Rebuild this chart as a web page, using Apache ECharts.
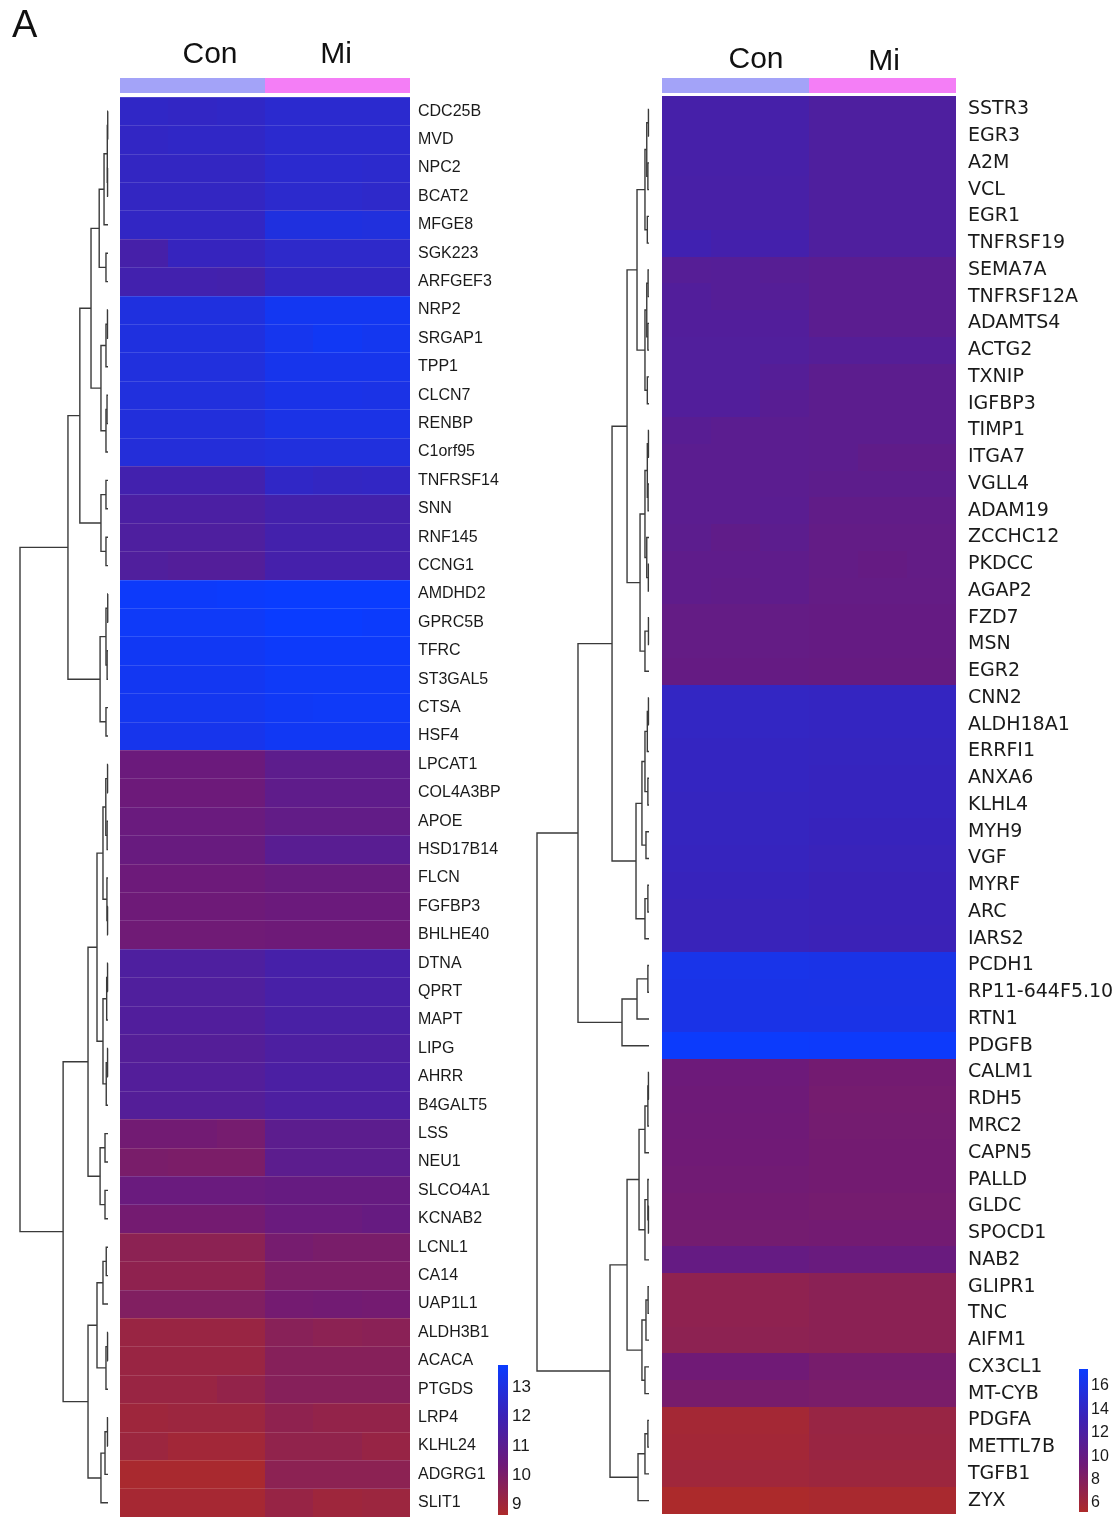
<!DOCTYPE html>
<html><head><meta charset="utf-8">
<script src="https://cdn.jsdelivr.net/npm/echarts@6/dist/echarts.min.js"></script>
<style>html,body{margin:0;padding:0;background:#fff}#c{width:1120px;height:1517px}</style>
</head><body><div id="c"></div>
<script>
const sampleNames = ['Con1','Con2','Con3','Mi1','Mi2','Mi3'];
const sampleGroups = [0,0,0,1,1,1];
const groupLabels = ['Con','Mi'];
const groupColors = ['#a3a3f8','#f47ef6'];

const leftGenes = ['CDC25B','MVD','NPC2','BCAT2','MFGE8','SGK223','ARFGEF3','NRP2','SRGAP1','TPP1','CLCN7','RENBP','C1orf95','TNFRSF14','SNN','RNF145','CCNG1','AMDHD2','GPRC5B','TFRC','ST3GAL5','CTSA','HSF4','LPCAT1','COL4A3BP','APOE','HSD17B14','FLCN','FGFBP3','BHLHE40','DTNA','QPRT','MAPT','LIPG','AHRR','B4GALT5','LSS','NEU1','SLCO4A1','KCNAB2','LCNL1','CA14','UAP1L1','ALDH3B1','ACACA','PTGDS','LRP4','KLHL24','ADGRG1','SLIT1'];

const leftValues = [
[12.4,12.35,12.4,12.6,12.6,12.6],
[12.35,12.4,12.4,12.6,12.6,12.6],
[12.3,12.3,12.3,12.6,12.6,12.55],
[12.3,12.3,12.3,12.55,12.55,12.5],
[12.35,12.35,12.35,13.0,13.0,12.95],
[11.65,12.2,12.2,12.5,12.5,12.5],
[11.8,11.8,11.75,12.3,12.3,12.3],
[13.0,13.0,13.0,13.45,13.45,13.45],
[13.0,13.0,13.0,13.35,13.5,13.4],
[12.95,12.95,12.95,13.3,13.3,13.3],
[12.95,12.95,12.95,13.2,13.2,13.15],
[12.9,12.9,12.9,13.15,13.15,13.15],
[12.85,12.85,12.85,12.95,12.95,12.95],
[11.8,11.8,11.8,12.4,12.3,12.35],
[11.5,11.5,11.5,11.75,11.75,11.75],
[11.4,11.4,11.4,11.75,11.75,11.75],
[11.35,11.25,11.25,11.7,11.7,11.7],
[13.65,13.65,13.7,13.75,13.75,13.75],
[13.6,13.6,13.6,13.75,13.75,13.7],
[13.5,13.5,13.5,13.65,13.65,13.65],
[13.45,13.45,13.45,13.6,13.6,13.6],
[13.4,13.4,13.4,13.55,13.6,13.6],
[13.3,13.3,13.3,13.5,13.5,13.5],
[10.45,10.45,10.45,10.9,10.9,10.9],
[10.4,10.4,10.4,10.85,10.85,10.85],
[10.5,10.5,10.5,10.75,10.75,10.75],
[10.55,10.55,10.55,11.05,11.05,11.05],
[10.4,10.4,10.4,10.55,10.55,10.55],
[10.35,10.35,10.35,10.45,10.45,10.45],
[10.3,10.3,10.3,10.35,10.35,10.35],
[11.4,11.4,11.4,11.65,11.65,11.65],
[11.35,11.35,11.35,11.6,11.6,11.6],
[11.3,11.3,11.3,11.55,11.55,11.55],
[11.2,11.2,11.2,11.45,11.45,11.45],
[11.25,11.25,11.25,11.5,11.5,11.5],
[11.2,11.2,11.2,11.45,11.45,11.45],
[10.25,10.25,10.15,10.95,10.95,10.95],
[10.05,10.0,10.0,10.95,10.95,10.95],
[10.5,10.5,10.5,10.6,10.6,10.6],
[10.2,10.2,10.2,10.5,10.5,10.6],
[9.55,9.55,9.55,10.15,10.05,10.05],
[9.45,9.45,9.45,9.95,9.95,9.95],
[9.85,9.85,9.85,10.2,10.25,10.2],
[9.2,9.2,9.2,9.65,9.55,9.6],
[9.2,9.2,9.2,9.7,9.7,9.7],
[9.2,9.2,9.35,9.7,9.7,9.7],
[9.05,9.1,9.1,9.45,9.35,9.35],
[9.1,8.95,8.95,9.4,9.4,9.25],
[8.75,8.75,8.75,9.55,9.55,9.55],
[8.85,8.85,8.85,9.25,9.05,9.1]
];

const rightGenes = ['SSTR3','EGR3','A2M','VCL','EGR1','TNFRSF19','SEMA7A','TNFRSF12A','ADAMTS4','ACTG2','TXNIP','IGFBP3','TIMP1','ITGA7','VGLL4','ADAM19','ZCCHC12','PKDCC','AGAP2','FZD7','MSN','EGR2','CNN2','ALDH18A1','ERRFI1','ANXA6','KLHL4','MYH9','VGF','MYRF','ARC','IARS2','PCDH1','RP11-644F5.10','RTN1','PDGFB','CALM1','RDH5','MRC2','CAPN5','PALLD','GLDC','SPOCD1','NAB2','GLIPR1','TNC','AIFM1','CX3CL1','MT-CYB','PDGFA','METTL7B','TGFB1','ZYX'];

const rightValues = [
[12.4,12.4,12.4,11.8,11.8,11.8],
[12.4,12.4,12.4,11.8,11.8,11.8],
[12.35,12.35,12.35,11.75,11.75,11.75],
[12.3,12.3,12.3,11.75,11.75,11.75],
[12.3,12.3,12.3,11.75,11.75,11.75],
[12.9,12.6,12.6,11.75,11.75,11.75],
[11.2,11.3,11.1,10.9,10.9,10.9],
[11.5,11.3,11.3,10.9,10.9,10.9],
[11.5,11.5,11.5,10.8,10.8,10.8],
[11.6,11.6,11.6,11.3,11.3,11.3],
[11.6,11.6,11.3,10.7,10.7,10.7],
[11.5,11.5,11.0,10.7,10.7,10.7],
[11.0,10.8,10.8,10.7,10.7,10.7],
[10.8,10.8,10.8,10.7,10.4,10.4],
[10.8,10.8,10.8,10.6,10.6,10.6],
[10.8,10.8,10.9,10.3,10.3,10.3],
[10.7,10.4,10.7,10.2,10.2,10.2],
[10.5,10.5,10.5,10.2,10.0,10.2],
[10.5,10.4,10.5,10.1,10.1,10.1],
[10.1,10.1,10.1,10.0,10.0,10.0],
[10.1,10.1,10.1,10.0,10.0,10.0],
[10.0,10.0,10.0,9.9,9.9,9.9],
[14.0,14.0,14.0,13.9,13.9,13.9],
[14.0,14.0,14.0,13.9,13.9,13.9],
[13.9,13.9,13.9,13.8,13.8,13.8],
[13.9,13.9,13.9,13.7,13.7,13.7],
[13.8,13.8,13.8,13.7,13.7,13.7],
[13.8,13.8,13.8,13.6,13.6,13.6],
[13.7,13.7,13.7,13.5,13.5,13.5],
[13.6,13.6,13.6,13.4,13.4,13.4],
[13.5,13.5,13.5,13.4,13.4,13.4],
[13.5,13.5,13.5,13.3,13.3,13.3],
[16.2,16.2,16.2,16.1,16.1,16.1],
[16.1,16.1,16.1,16.0,16.0,16.0],
[16.1,16.1,16.1,16.05,16.05,16.05],
[17.3,17.3,17.3,17.2,17.2,17.2],
[9.4,9.4,9.4,8.95,8.95,8.95],
[9.3,9.3,9.3,8.85,8.85,8.85],
[9.25,9.25,9.25,8.9,8.9,8.9],
[9.2,9.2,9.2,8.95,8.95,8.95],
[9.1,9.1,9.1,8.95,8.95,8.95],
[9.0,9.0,9.0,8.85,8.85,8.85],
[8.9,8.9,8.9,9.0,9.0,9.0],
[10.0,10.0,10.0,9.7,9.7,9.7],
[7.2,7.2,7.2,7.5,7.5,7.5],
[7.2,7.2,7.2,7.4,7.4,7.4],
[7.3,7.3,7.3,7.4,7.4,7.4],
[9.2,9.2,9.2,8.7,8.7,8.7],
[8.7,8.7,8.7,8.5,8.5,8.5],
[5.8,5.8,5.8,6.6,6.6,6.6],
[5.9,5.9,5.9,6.5,6.5,6.5],
[6.1,6.1,6.1,6.3,6.3,6.3],
[5.3,5.3,5.3,5.5,5.5,5.5]
];

// dendrograms: [height, childA, childB]; numbers are row indices
const leftTree =
[10,
  [4.55,
    [3.2,
      [1.93,
        [1.0, [0.45, [0.08, [0.03, 0, 1], [0.05, 2, 3]], 4], [0.23, 5, 6]],
        [0.8, [0.23, [0.06, 7, 8], 9], [0.23, [0.11, 10, 11], 12]]
      ],
      [0.8, [0.23, 13, 14], [0.23, 15, 16]]
    ],
    [0.9, [0.23, [0.03, 17, 18], [0.1, 19, 20]], [0.23, 21, 22]]
  ],
  [5.1,
    [2.27,
      [1.25,
        [0.57, [0.25, [0.05, 23, 24], [0.1, 25, 26]], [0.12, 27, [0.05, 28, 29]]],
        [0.57, [0.15, [0.05, 30, 31], 32], [0.2, [0.05, 33, 34], 35]]
      ],
      [0.9, [0.34, 36, 37], [0.34, 38, 39]]
    ],
    [2.27,
      [1.25, [0.57, [0.2, 40, 41], 42], [0.23, [0.05, 43, 44], 45]],
      [0.8, [0.34, [0.06, 46, 47], 48], 49]
    ]
  ]
];

const rightTree =
[10,
  [6.34,
    [3.3,
      [1.96,
        [1.07,
          [0.36, [0.2, [0.05, 0, 1], [0.1, 2, 3]], [0.15, 4, 5]],
          [0.36, [0.2, [0.08, 6, 7], [0.1, 8, 9]], [0.15, 10, 11]]
        ],
        [0.8,
          [0.36, [0.15, [0.05, 12, 13], [0.08, 14, 15]], [0.2, 16, [0.06, 17, 18]]],
          [0.36, [0.05, 19, 20], 21]
        ]
      ],
      [1.16,
        [0.63, [0.36, [0.15, [0.05, 22, 23], 24], [0.1, 25, 26]], [0.27, 27, 28]],
        [0.36, [0.1, 29, 30], 31]
      ]
    ],
    [2.41, [1.07, [0.1, 32, 33], 34], 35]
  ],
  [3.48,
    [1.96,
      [0.89, [0.36, [0.1, [0.05, 36, 37], 38], 39], [0.36, [0.1, 40, [0.05, 41, 42]], 43]],
      [0.63, [0.27, [0.08, 44, 45], 46], [0.36, 47, 48]]
    ],
    [0.98, [0.36, [0.1, 49, 50], 51], 52]
  ]
];

const palette = ['#ad2a2a', '#6e1a78', '#3a22b8', '#0a3cff'];
const leftRange = [8.65, 13.76];
const rightRange = [5.23, 17.45];
const leftTicks = [9, 10, 11, 12, 13];
const rightTicks = [6, 8, 10, 12, 14, 16];

function dendroSegments(tree) {
  const segs = [];
  function walk(n) {
    if (typeof n === 'number') return { h: 0, y: n };
    const a = walk(n[1]), b = walk(n[2]);
    const y = (a.y + b.y) / 2;
    segs.push([n[0], y, a.h, a.y, b.h, b.y]);
    return { h: n[0], y: y };
  }
  walk(tree);
  return segs;
}
function heatData(values) {
  const d = [];
  values.forEach((row, i) => row.forEach((v, j) => d.push([j, i, v])));
  return d;
}
function dendroRender(params, api) {
  const h = api.value(0), ha = api.value(2), ya = api.value(3), hb = api.value(4), yb = api.value(5);
  return {
    type: 'polyline',
    shape: { points: [api.coord([ha, ya]), api.coord([h, ya]), api.coord([h, yb]), api.coord([hb, yb])] },
    style: { stroke: '#3a3a3a', lineWidth: 1.4, fill: null }
  };
}
function snapRect(api, xv, yv) {
  const p = api.coord([xv, yv]);
  const s = api.size([1, 1]);
  const x0 = Math.round(p[0] - s[0] / 2), x1 = Math.round(p[0] + s[0] / 2);
  const y0 = Math.round(p[1] - s[1] / 2), y1 = Math.round(p[1] + s[1] / 2);
  return { x: x0, y: y0, width: x1 - x0, height: y1 - y0 };
}
function cellRender(params, api) {
  return { type: 'rect', shape: snapRect(api, api.value(0), api.value(1)), style: { fill: api.visual('color') } };
}
function annotRender(params, api) {
  return { type: 'rect', shape: snapRect(api, api.value(0), 0), style: { fill: groupColors[api.value(1)] } };
}
function barRender(params, api) {
  const p1 = api.coord([0, api.value(1)]);
  const p2 = api.coord([1, api.value(0)]);
  const stops = palette.map((c, i) => ({ offset: 1 - i / (palette.length - 1), color: c })).reverse();
  return {
    type: 'rect',
    shape: { x: p1[0], y: p1[1], width: p2[0] - p1[0], height: p2[1] - p1[1] },
    style: { fill: new echarts.graphic.LinearGradient(0, 0, 0, 1, stops) }
  };
}

const FONT = 'Liberation Sans';
const hid = { show: false };
const base = { outerBoundsMode: 'none', containLabel: false };

const grids = [
  Object.assign({ left: 20, top: 97, width: 88, height: 1420 }, base),   // 0 left dendro
  Object.assign({ left: 120, top: 97, width: 290, height: 1420 }, base), // 1 left heat
  Object.assign({ left: 120, top: 78, width: 290, height: 15 }, base),   // 2 left annot
  Object.assign({ left: 498, top: 1365, width: 10, height: 150 }, base), // 3 left bar
  Object.assign({ left: 537, top: 96, width: 112, height: 1418 }, base), // 4 right dendro
  Object.assign({ left: 662, top: 96, width: 294, height: 1418 }, base), // 5 right heat
  Object.assign({ left: 662, top: 78, width: 294, height: 15 }, base),   // 6 right annot
  Object.assign({ left: 1079, top: 1369, width: 9, height: 143 }, base)  // 7 right bar
];

const xAxes = [
  { gridIndex: 0, type: 'value', min: 0, max: 10, inverse: true, show: false },
  { gridIndex: 1, type: 'category', data: sampleNames, show: false },
  { gridIndex: 2, type: 'category', data: sampleNames, show: false },
  { gridIndex: 3, type: 'value', min: 0, max: 1, show: false },
  { gridIndex: 4, type: 'value', min: 0, max: 10, inverse: true, show: false },
  { gridIndex: 5, type: 'category', data: sampleNames, show: false },
  { gridIndex: 6, type: 'category', data: sampleNames, show: false },
  { gridIndex: 7, type: 'value', min: 0, max: 1, show: false }
];

const yAxes = [
  { gridIndex: 0, type: 'value', min: -0.5, max: leftGenes.length - 0.5, inverse: true, show: false },
  { gridIndex: 1, type: 'category', data: leftGenes, inverse: true, position: 'right', z: 5,
    axisLine: hid, axisTick: hid,
    axisLabel: { interval: 0, margin: 8, fontFamily: FONT, fontSize: 16, color: '#1a1a1a' },
    splitLine: { show: true, lineStyle: { color: 'rgba(255,255,255,0.14)', width: 1 } } },
  { gridIndex: 2, type: 'category', data: ['group'], show: false },
  { gridIndex: 3, type: 'value', min: leftRange[0], max: leftRange[1], position: 'right',
    axisLine: hid, axisTick: hid, splitLine: hid,
    axisLabel: { customValues: leftTicks, margin: 4, fontFamily: FONT, fontSize: 17, color: '#1a1a1a' } },
  { gridIndex: 4, type: 'value', min: -0.5, max: rightGenes.length - 0.5, inverse: true, show: false },
  { gridIndex: 5, type: 'category', data: rightGenes, inverse: true, position: 'right',
    axisLine: hid, axisTick: hid, splitLine: hid,
    axisLabel: { interval: 0, margin: 12, fontFamily: 'DejaVu Sans', fontSize: 19, color: '#1a1a1a' } },
  { gridIndex: 6, type: 'category', data: ['group'], show: false },
  { gridIndex: 7, type: 'value', min: rightRange[0], max: rightRange[1], position: 'right',
    axisLine: hid, axisTick: hid, splitLine: hid,
    axisLabel: { customValues: rightTicks, margin: 3, fontFamily: FONT, fontSize: 16, color: '#1a1a1a' } }
];

const annotData = sampleNames.map((s, j) => [j, sampleGroups[j]]);

const series = [
  { type: 'custom', xAxisIndex: 0, yAxisIndex: 0, data: dendroSegments(leftTree), renderItem: dendroRender, silent: true },
  { type: 'custom', xAxisIndex: 1, yAxisIndex: 1, data: heatData(leftValues), renderItem: cellRender, silent: true },
  { type: 'custom', xAxisIndex: 2, yAxisIndex: 2, data: annotData, renderItem: annotRender, silent: true },
  { type: 'custom', xAxisIndex: 3, yAxisIndex: 3, data: [[leftRange[0], leftRange[1]]], renderItem: barRender, silent: true },
  { type: 'custom', xAxisIndex: 4, yAxisIndex: 4, data: dendroSegments(rightTree), renderItem: dendroRender, silent: true },
  { type: 'custom', xAxisIndex: 5, yAxisIndex: 5, data: heatData(rightValues), renderItem: cellRender, silent: true },
  { type: 'custom', xAxisIndex: 6, yAxisIndex: 6, data: annotData, renderItem: annotRender, silent: true },
  { type: 'custom', xAxisIndex: 7, yAxisIndex: 7, data: [[rightRange[0], rightRange[1]]], renderItem: barRender, silent: true }
];

const titleFont = '30px "Liberation Sans"';
const option = {
  animation: false,
  backgroundColor: '#ffffff',
  grid: grids,
  xAxis: xAxes,
  yAxis: yAxes,
  visualMap: [
    { type: 'continuous', show: false, seriesIndex: 1, dimension: 2, min: leftRange[0], max: leftRange[1], inRange: { color: palette } },
    { type: 'continuous', show: false, seriesIndex: 5, dimension: 2, min: rightRange[0], max: rightRange[1], inRange: { color: palette } }
  ],
  graphic: [
    { type: 'text', x: 12, y: 8, style: { text: 'A', font: '38px "Liberation Sans"', fill: '#111' } },
    { type: 'text', x: 210, y: 55, style: { text: groupLabels[0], font: titleFont, fill: '#111', textAlign: 'center', textVerticalAlign: 'middle' } },
    { type: 'text', x: 336, y: 55, style: { text: groupLabels[1], font: titleFont, fill: '#111', textAlign: 'center', textVerticalAlign: 'middle' } },
    { type: 'text', x: 756, y: 60, style: { text: groupLabels[0], font: titleFont, fill: '#111', textAlign: 'center', textVerticalAlign: 'middle' } },
    { type: 'text', x: 884, y: 62, style: { text: groupLabels[1], font: titleFont, fill: '#111', textAlign: 'center', textVerticalAlign: 'middle' } }
  ],
  series: series
};

const chart = echarts.init(document.getElementById('c'), null, { renderer: 'canvas' });
chart.setOption(option);
</script>
</body></html>
